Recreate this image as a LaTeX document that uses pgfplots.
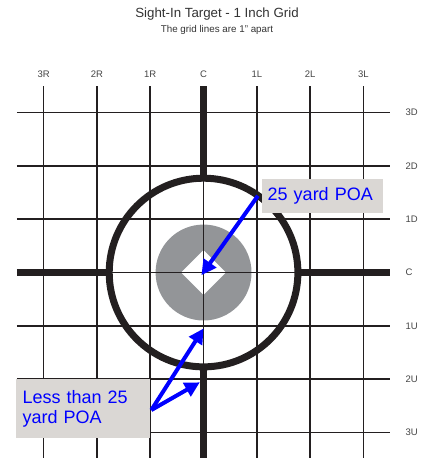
\documentclass[border=0pt]{standalone}
\usepackage{pgfplots}
\pgfplotsset{compat=1.18}
\usepackage{fontspec}
\setmainfont{Liberation Sans}
\usetikzlibrary{arrows.meta}
\definecolor{gridc}{HTML}{231F20}
\definecolor{diskc}{HTML}{939598}
\definecolor{boxc}{HTML}{DAD7D4}
\definecolor{labc}{HTML}{444444}
\definecolor{titc}{HTML}{333333}
\begin{document}
\begin{tikzpicture}
\begin{axis}[
  scale only axis,
  width=373.1pt, height=372pt,
  xmin=-3.5, xmax=3.5, ymin=-3.48, ymax=3.5,
  axis line style={draw=none},
  xtick={-3,-2,-1,0,1,2,3}, ytick={-3,-2,-1,0,1,2,3},
  xticklabels={3R,2R,1R,C,1L,2L,3L},
  yticklabels={3U,2U,1U,C,1D,2D,3D},
  xticklabel pos=upper, yticklabel pos=upper,
  major tick length=0pt,
  xticklabel style={font=\fontsize{9.5}{10}\selectfont, text=labc, yshift=5pt},
  yticklabel style={font=\fontsize{9.5}{10}\selectfont, text=labc, xshift=12pt},
  grid=major, grid style={line width=1.6pt, color=gridc},
  clip=false,
]
% gray disk
\fill[diskc] (axis cs:0,0) circle[radius=0.9];
% white diamond
\addplot[fill=white, draw=none] coordinates {(0,0.42) (0.42,0) (0,-0.42) (-0.42,0)} -- cycle;
% thin center lines redrawn on top
\addplot[line width=1.6pt, color=gridc] coordinates {(0,-1.8) (0,1.8)};
\addplot[line width=1.6pt, color=gridc] coordinates {(-1.8,0) (1.8,0)};
% big circle
\draw[line width=7pt, color=gridc] (axis cs:0,0) circle[radius=1.77];
% thick cross segments
\addplot[line width=7pt, color=gridc] coordinates {(0,1.75) (0,3.5)};
\addplot[line width=7pt, color=gridc] coordinates {(0,-1.75) (0,-3.48)};
\addplot[line width=7pt, color=gridc] coordinates {(-3.5,0) (-1.75,0)};
\addplot[line width=7pt, color=gridc] coordinates {(1.75,0) (3.5,0)};
% boxes
\node[fill=boxc, anchor=north west, minimum width=121pt, minimum height=34pt,
      text width=109pt, inner xsep=6pt, inner ysep=0pt, align=left, text=blue,
      font=\fontsize{18}{20}\selectfont] at (axis cs:1.088,1.76) {25 yard POA};
\node[fill=boxc, anchor=north west, minimum width=134pt, minimum height=59pt,
      text width=120pt, inner xsep=7pt, inner ysep=0pt, align=left, text=blue,
      font=\fontsize{18}{20}\selectfont] at (axis cs:-3.53,-2.0) {Less than 25\\yard POA};
% arrows
\addplot[blue, line width=4pt, -{Triangle[length=15pt, width=15pt]}] coordinates {(1.02,1.44) (-0.04,-0.05)};
\addplot[blue, line width=4pt, -{Triangle[length=15pt, width=15pt]}] coordinates {(-0.98,-2.58) (0.0,-1.05)};
\addplot[blue, line width=4pt, -{Triangle[length=15pt, width=15pt]}] coordinates {(-0.98,-2.58) (-0.07,-2.06)};
\end{axis}
\node[font=\fontsize{13.3}{15}\selectfont, text=titc] at (200pt,444pt) {Sight-In Target - 1 Inch Grid};
\node[font=\fontsize{9.8}{11}\selectfont, text=titc] at (200pt,428pt) {The grid lines are 1" apart};
\pgfresetboundingbox
\path (-17pt,0pt) rectangle (411pt,458pt);
\end{tikzpicture}
\end{document}
